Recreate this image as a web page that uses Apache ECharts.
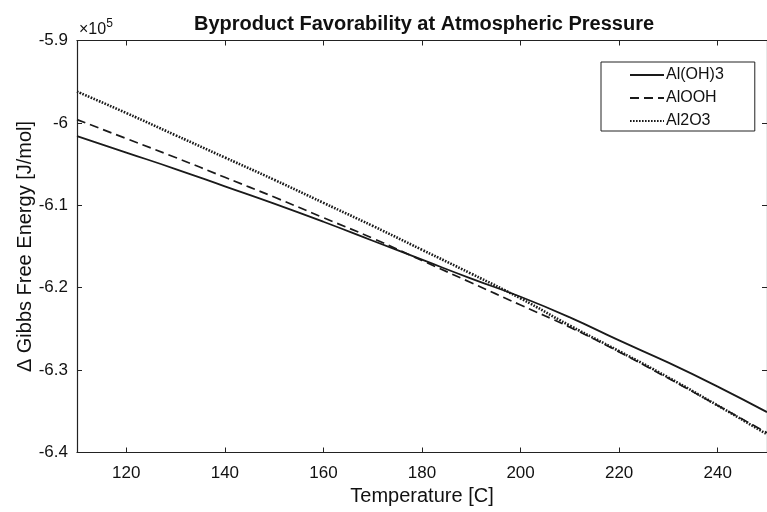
<!DOCTYPE html>
<html>
<head>
<meta charset="utf-8">
<script src="https://cdn.jsdelivr.net/npm/echarts@6/dist/echarts.min.js"></script>
<style>html,body{margin:0;padding:0;background:#fff}#c{width:767px;height:512px}</style>
</head>
<body>
<div id="c"></div>
<script>
// Temperature [C]
var temps = [110, 120, 130, 140, 150, 160, 170, 180, 190, 200, 210, 220, 230, 240, 250];
// Delta Gibbs free energy, in units of 1e5 J/mol
var alOH3 = [-6.016, -6.036, -6.056, -6.077, -6.098, -6.120, -6.143, -6.166, -6.189, -6.211, -6.236, -6.264, -6.291, -6.320, -6.351];
var alOOH = [-5.996, -6.019, -6.042, -6.066, -6.090, -6.115, -6.140, -6.167, -6.194, -6.221, -6.248, -6.278, -6.310, -6.343, -6.376];
var al2O3 = [-5.962, -5.988, -6.015, -6.042, -6.069, -6.097, -6.125, -6.154, -6.183, -6.213, -6.246, -6.277, -6.309, -6.343, -6.378];
var seriesNames = ['Al(OH)3', 'AlOOH', 'Al2O3'];
var xTicks = [120, 140, 160, 180, 200, 220, 240];
var yTicks = [-6.4, -6.3, -6.2, -6.1, -6, -5.9];

var FONT = 'Liberation Sans, Arial, sans-serif';
function pairs(ys) { return temps.map(function (t, i) { return [t, ys[i]]; }); }

var chart = echarts.init(document.getElementById('c'), null, { renderer: 'canvas' });
var axisLine = { show: true, lineStyle: { color: '#222', width: 1.2 } };
chart.setOption({
  backgroundColor: '#fff',
  animation: false,
  title: {
    text: 'Byproduct Favorability at Atmospheric Pressure',
    left: 419, top: 9, textAlign: 'center',
    textStyle: { fontFamily: FONT, fontSize: 20, fontWeight: 'bold', color: '#111' }
  },
  grid: { left: 77, right: -6, top: 40.5, bottom: 59.5, containLabel: false },
  legend: {
    orient: 'vertical', left: 601, top: 62,
    padding: [5, 31, 2, 28], itemGap: 7, itemWidth: 34, itemHeight: 14,
    borderColor: '#222', borderWidth: 1, backgroundColor: '#fff',
    itemStyle: { opacity: 0 },
    textStyle: { fontFamily: FONT, fontSize: 16, color: '#111', padding: [0, 0, 0, -3] },
    data: seriesNames
  },
  xAxis: [{
    type: 'value', min: 110, max: 250, position: 'bottom',
    name: 'Temperature [C]', nameLocation: 'middle', nameGap: 34, nameMoveOverlap: false,
    nameTextStyle: { fontFamily: FONT, fontSize: 20, color: '#111' },
    axisLine: axisLine,
    axisTick: { inside: true, length: 5, customValues: xTicks, lineStyle: { color: '#222' } },
    axisLabel: { customValues: xTicks, fontFamily: FONT, fontSize: 17, color: '#111', margin: 12 },
    splitLine: { show: false }
  }, {
    type: 'value', min: 110, max: 250, position: 'top',
    axisLine: axisLine,
    axisTick: { inside: true, length: 5, customValues: xTicks, lineStyle: { color: '#222' } },
    axisLabel: { show: false }, splitLine: { show: false }
  }],
  yAxis: [{
    type: 'value', min: -6.4, max: -5.9, interval: 0.1, position: 'left',
    name: 'Δ Gibbs Free Energy [J/mol]', nameLocation: 'middle', nameGap: 42, nameMoveOverlap: false,
    nameTextStyle: { fontFamily: FONT, fontSize: 20, color: '#111' },
    axisLine: axisLine,
    axisTick: { inside: true, length: 5, customValues: yTicks, lineStyle: { color: '#222' } },
    axisLabel: {
      customValues: yTicks, fontFamily: FONT, fontSize: 17, color: '#111', margin: 9,
      formatter: function (v) { return String(Math.round(v * 10) / 10); }
    },
    splitLine: { show: false }
  }, {
    type: 'value', min: -6.4, max: -5.9, position: 'right',
    axisLine: axisLine,
    axisTick: { inside: true, length: 5, customValues: yTicks, lineStyle: { color: '#222' } },
    axisLabel: { show: false }, splitLine: { show: false }
  }],
  graphic: [{
    type: 'text', left: 79, top: 18,
    style: {
      text: '{a|×10}{b|5}',
      rich: {
        a: { fontFamily: FONT, fontSize: 16, fill: '#111', verticalAlign: 'bottom' },
        b: { fontFamily: FONT, fontSize: 12, fill: '#111', verticalAlign: 'top', padding: [0, 0, 8, 0] }
      }
    }
  }],
  series: [{
    name: seriesNames[0], type: 'line', data: pairs(alOH3), smooth: true,
    showSymbol: false, symbol: 'none',
    lineStyle: { color: '#1a1a1a', width: 1.8, type: 'solid' }, itemStyle: { color: '#1a1a1a' }
  }, {
    name: seriesNames[1], type: 'line', data: pairs(alOOH), smooth: true,
    showSymbol: false, symbol: 'none',
    lineStyle: { color: '#1a1a1a', width: 1.7, type: [9, 5] }, itemStyle: { color: '#1a1a1a' }
  }, {
    name: seriesNames[2], type: 'line', data: pairs(al2O3), smooth: true,
    showSymbol: false, symbol: 'none',
    lineStyle: { color: '#1a1a1a', width: 2.6, type: [1.6, 1.4] }, itemStyle: { color: '#1a1a1a' }
  }]
});
</script>
</body>
</html>
